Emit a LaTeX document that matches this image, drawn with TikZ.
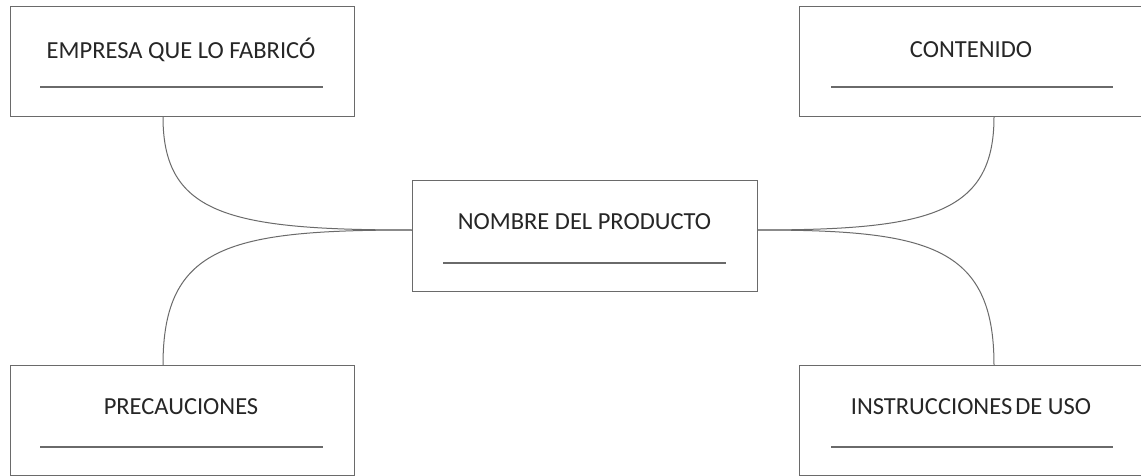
\documentclass[tikz,border=0pt]{standalone}
\usepackage{fontspec}
\setmainfont{Carlito}
\definecolor{linegray}{HTML}{6A6A6A}
\definecolor{txtgray}{HTML}{262626}
\begin{document}
\begin{tikzpicture}[x=1pt,y=-1pt,
  box/.style={draw=linegray,line width=1pt,minimum width=344pt,minimum height=110pt,inner sep=0pt},
  lbl/.style={text=txtgray,font=\fontsize{24.5}{29}\selectfont,inner sep=0pt,anchor=center},
  uline/.style={draw=linegray,line width=1.2pt},
  conn/.style={draw=linegray,line width=1pt}]
\useasboundingbox (0,0) rectangle (1141,476);
\fill[white] (0,0) rectangle (1141,476);
% boxes
\node[box] (tl) at (182,62) {};
\node[box] (tr) at (971,62) {};
\node[box] (bl) at (182,420) {};
\node[box] (br) at (971,420) {};
\node[box,minimum width=345pt] (c) at (584.5,236) {};
% labels
\node[lbl] (tlt) at (181,50) {EMPRESA QUE LO FABRICÓ};
\node[lbl] (trt) at (971,50) {CONTENIDO};
\node[lbl] (blt) at (181,407) {PRECAUCIONES};
\node[lbl] (brt) at (971,407) {INSTRUCCIONES\hspace{-0.1em} DE USO};
\node[lbl] (ct) at (584.5,222) {NOMBRE DEL PRODUCTO};
% underlines
\draw[uline] (40,87) -- (323,87);
\draw[uline] (831,87) -- (1113,87);
\draw[uline] (40,447) -- (323,447);
\draw[uline] (831,447) -- (1113,447);
\draw[uline] (443,263) -- (726,263);
% connector end points
\coordinate (tla) at (163,117);
\coordinate (bla) at (163,365);
\coordinate (tra) at (994,117);
\coordinate (bra) at (994,365);
\coordinate (cw) at (412,230);
\coordinate (ce) at (757,230);
% connectors
\draw[conn] (tla) .. controls (163,215) and (230,230) .. (cw);
\draw[conn] (bla) .. controls (163,245) and (230,230) .. (cw);
\draw[conn] (tra) .. controls (994,215) and (927,230) .. (ce);
\draw[conn] (bra) .. controls (994,245) and (927,230) .. (ce);
\end{tikzpicture}
\end{document}
